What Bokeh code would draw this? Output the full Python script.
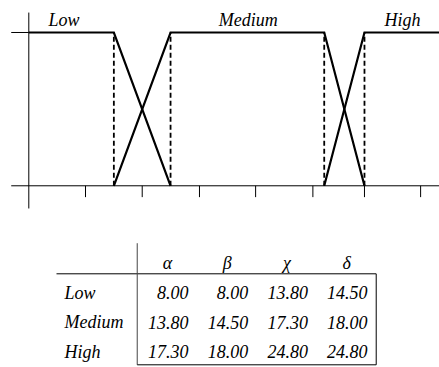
from bokeh.plotting import figure
from bokeh.layouts import column
from bokeh.models import Range1d
from bokeh.core.properties import value
from bokeh.embed import file_html
from bokeh.resources import INLINE

# ---------------- data ----------------
sets = ["Low", "Medium", "High"]
params = ["α", "β", "χ", "δ"]
low_vals = [8.00, 8.00, 13.80, 14.50]
medium_vals = [13.80, 14.50, 17.30, 18.00]
high_vals = [17.30, 18.00, 24.80, 24.80]

# schematic diagram (x in tick units, y = membership degree)
x_ticks = [1.0, 2.0, 3.01, 4.0, 5.01, 5.92, 6.91]
low_x = [0.0, 1.5, 2.5]
low_y = [1, 1, 0]
medium_x = [1.5, 2.5, 5.21, 5.92]
medium_y = [0, 1, 1, 0]
high_x = [5.21, 5.92, 7.4]
high_y = [0, 1, 1]
breakpoints = [1.5, 2.5, 5.21, 5.92]
label_x = [0.62, 3.87, 6.59]

FONT = value("'Liberation Serif', 'Times New Roman', serif")
YOFF = -5

# ---------------- membership diagram ----------------
XS, XE = -0.4991, 7.243
p1 = figure(width=439, height=220, x_range=Range1d(XS, XE), y_range=Range1d(-0.2264, 1.2087),
            output_backend="svg", toolbar_location=None, x_axis_type=None, y_axis_type=None,
            min_border=0, min_border_left=0, min_border_right=0, min_border_top=0, min_border_bottom=0,
            outline_line_color=None, background_fill_color="white", border_fill_color="white")
p1.grid.visible = False

# axes
p1.segment(x0=[0], y0=[-0.148], x1=[0], y1=[1.13], line_color="black", line_width=1)
p1.segment(x0=[-0.31], y0=[0], x1=[XE + 0.1], y1=[0], line_color="black", line_width=1)
p1.segment(x0=[-0.31], y0=[1], x1=[0], y1=[1], line_color="black", line_width=1)
p1.segment(x0=x_ticks, y0=[0] * len(x_ticks), x1=x_ticks, y1=[-0.074] * len(x_ticks),
           line_color="black", line_width=1)

# dashed guides
p1.segment(x0=breakpoints, y0=[0] * 4, x1=breakpoints, y1=[1] * 4,
           line_color="black", line_width=1.8, line_dash="5 3")

for xs, ys in [(low_x, low_y), (medium_x, medium_y), (high_x, high_y)]:
    p1.line(xs, ys, line_color="black", line_width=2.2, line_join="miter")

p1.text(x=label_x, y=[1.0457] * 3, text=sets, y_offset=YOFF, text_font=FONT, text_font_style="italic",
        text_font_size="18px", text_align="center", text_baseline="alphabetic", text_color="black")

# ---------------- table ----------------
p2 = figure(width=439, height=147, x_range=Range1d(-2.149, 5.204), y_range=Range1d(3.357, -1.593),
            output_backend="svg", toolbar_location=None, x_axis_type=None, y_axis_type=None,
            min_border=0, min_border_left=0, min_border_right=0, min_border_top=0, min_border_bottom=0,
            outline_line_color=None, background_fill_color="white", border_fill_color="white")
p2.grid.visible = False

cols = [1, 2, 3, 4]
rows = [1, 2, 3]
# lines
p2.segment(x0=[-1.211], y0=[0.202], x1=[4.144], y1=[0.202], line_color="black", line_width=1)
p2.segment(x0=[0.141], y0=[-0.828], x1=[0.141], y1=[3.266], line_color="#444444", line_width=1)
p2.segment(x0=[4.144], y0=[0.202], x1=[4.144], y1=[3.266], line_color="black", line_width=1)
p2.segment(x0=[0.141], y0=[3.266], x1=[4.144], y1=[3.266], line_color="black", line_width=1)

# header
p2.text(x=cols, y=[0] * 4, text=params, x_offset=-21, y_offset=YOFF, text_font=FONT,
        text_font_style="italic", text_font_size="18px", text_align="center",
        text_baseline="alphabetic", text_color="black")
# row labels
p2.text(x=[-1.077] * 3, y=rows, text=sets, y_offset=YOFF, text_font=FONT, text_font_style="italic",
        text_font_size="18px", text_align="left", text_baseline="alphabetic", text_color="black")
# values
vx, vy, vt = [], [], []
for r, vals in zip(rows, [low_vals, medium_vals, high_vals]):
    for c, v in zip(cols, vals):
        vx.append(c)
        vy.append(r)
        vt.append(f"{v:.2f}")
p2.text(x=vx, y=vy, text=vt, y_offset=YOFF, text_font=FONT, text_font_style="italic",
        text_font_size="18px", text_align="right", text_baseline="alphabetic", text_color="black")

layout = column(p1, p2, spacing=0)
open("out.html", "w").write(file_html(layout, INLINE))
